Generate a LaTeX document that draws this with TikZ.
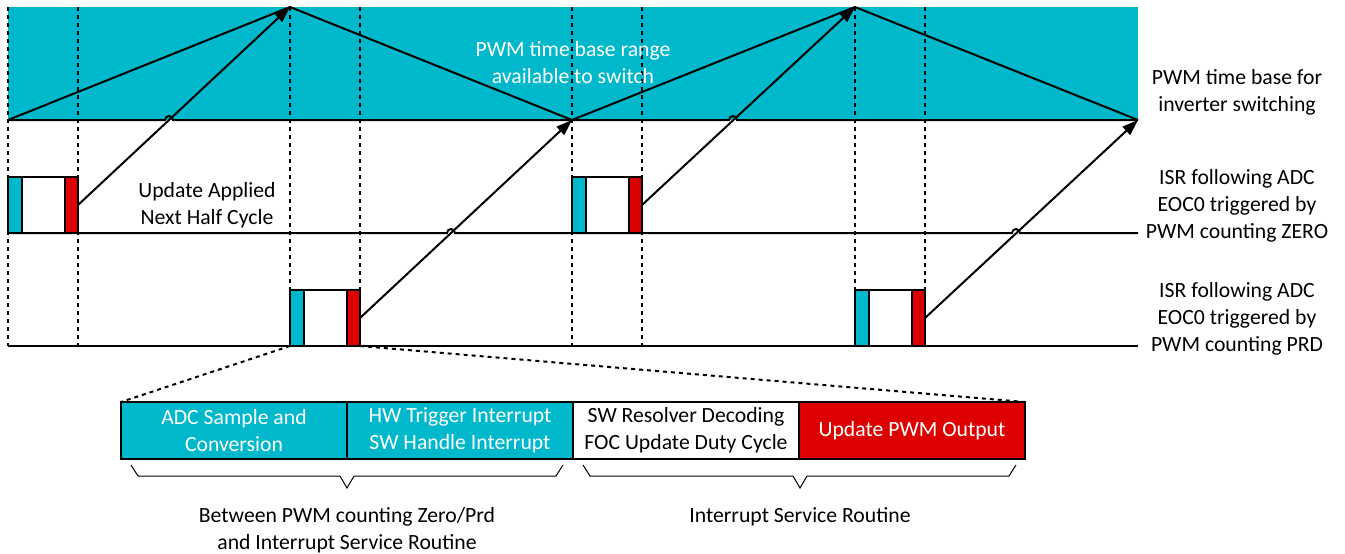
\documentclass[tikz,border=0pt]{standalone}
\usepackage{fontspec}
\setmainfont{Carlito}
\usetikzlibrary{arrows.meta,positioning}
\definecolor{pwmteal}{RGB}{0,184,204}
\definecolor{pwmred}{RGB}{221,0,0}

\begin{document}
\begin{tikzpicture}[x=0.5pt,y=-0.5pt,line width=1pt,
    font=\fontsize{10.85}{13.5}\selectfont,
    grid line/.style={dash pattern=on 2pt off 2pt},
    blk/.style={draw,line width=0.8pt,minimum width=113pt,minimum height=28.5pt,
      inner sep=0pt,outer sep=0pt,align=center},
    brace/.style={line width=0.5pt},
    upd/.style={-{Triangle[length=8pt,width=5.5pt]}}]
\useasboundingbox (0,0) rectangle (1345,553);
% time base band
\fill[pwmteal] (8,7) rectangle (1138,120);
\foreach \x in {8,78,290,360,572,642,855,925}
  \draw[grid line] (\x,7) -- (\x,346);
\coordinate (z0) at (8,120);
\coordinate (p1) at (290,7);
\coordinate (z1) at (572,120);
\coordinate (p2) at (855,7);
\coordinate (z2) at (1138,120);
\draw (z0) -- (p1) -- (z1) -- (p2) -- (z2);
% time lines with hops
\draw (z0) -- (165,120) arc[start angle=180,end angle=0,radius=2pt]
  -- (729,120) arc[start angle=180,end angle=0,radius=2pt] -- (z2);
\draw (8,233) -- (447,233) arc[start angle=180,end angle=0,radius=2pt]
  -- (1012,233) arc[start angle=180,end angle=0,radius=2pt] -- (1138,233);
\draw (8,346) -- (1138,346);
% isr boxes
\foreach \x/\y/\n in {8/177/za,572/177/zb,290/290/pa,855/290/pb}{
  \draw[fill=white] (\x,\y) rectangle ++(70,56);
  \draw[fill=pwmteal] (\x,\y) rectangle ++(14,56);
  \draw[fill=pwmred] (\x+57,\y) rectangle ++(13,56);
  \coordinate (\n) at (\x+70,\y+28);
  \coordinate (sw\n) at (\x,\y+56);
  \coordinate (se\n) at (\x+70,\y+56);
}
\draw[upd] (za) -- (p1);
\draw[upd] (pa) -- (z1);
\draw[upd] (zb) -- (p2);
\draw[upd] (pb) -- (z2);
\node[align=center,text=white] (rng) at (573,63) {PWM time base range\\available to switch};
\node[align=center] (note) at (207,205) {Update Applied\\Next Half Cycle};
\node[align=center] (tb) at (1237,92) {PWM time base for\\inverter switching};
\node[align=center] (isrz) at (1237,206) {ISR following ADC\\EOC0 triggered by\\PWM counting ZERO};
\node[align=center] (isrp) at (1237,319) {ISR following ADC\\EOC0 triggered by\\PWM counting PRD};
% zoomed sequence
\node[blk,fill=pwmteal,text=white,anchor=north west] (adc) at (121,402) {ADC Sample and\\Conversion};
\node[blk,fill=pwmteal,text=white,right=0pt of adc] (hw) {HW Trigger Interrupt\\SW Handle Interrupt};
\node[blk,fill=white,right=0pt of hw] (sw) {SW Resolver Decoding\\FOC Update Duty Cycle};
\node[blk,fill=pwmred,text=white,right=0pt of sw] (out) {Update PWM Output};
\draw[grid line] (swpa) -- (adc.north west);
\draw[grid line] (sepa) -- (out.north east);
\draw[brace] (131,465) -- (138,476) -- (340,476) -- (347,488) -- (354,476) -- (556,476) -- (563,465);
\draw[brace] (583,465) -- (590,476) -- (793,476) -- (800,488) -- (807,476) -- (1009,476) -- (1016,465);
\node[align=center] (between) at (347,530) {Between PWM counting Zero/Prd\\and Interrupt Service Routine};
\node (isr) at (800,517) {Interrupt Service Routine};
\end{tikzpicture}
\end{document}
